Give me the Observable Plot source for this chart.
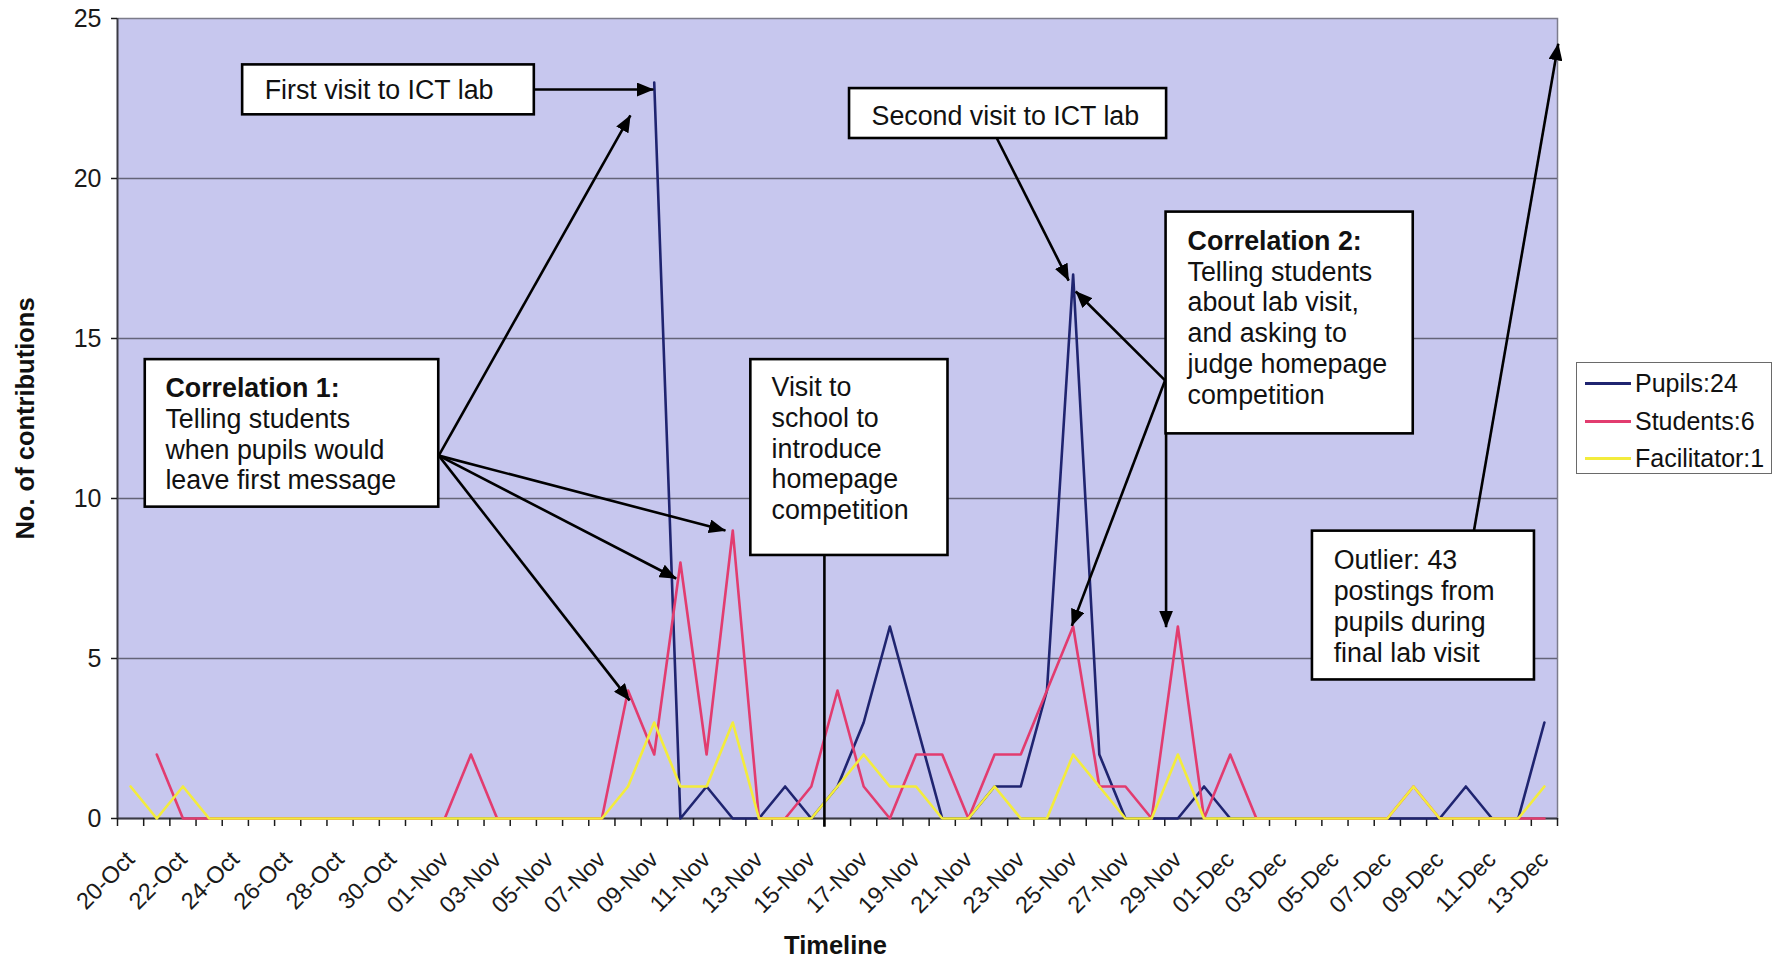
<!DOCTYPE html>
<html>
<head>
<meta charset="utf-8">
<script src="https://cdn.jsdelivr.net/npm/d3@7"></script>
<script src="https://cdn.jsdelivr.net/npm/@observablehq/plot@0.6"></script>
<style>
  html, body { margin: 0; padding: 0; background: #ffffff; }
  #wrap { position: relative; width: 1772px; height: 962px; overflow: hidden;
          font-family: "Liberation Sans", Arial, sans-serif; }
  #legend { position: absolute; left: 1576px; top: 362px; width: 196px; height: 112px;
            border: 1.5px solid #6a6a6a; background: #ffffff; box-sizing: border-box; }
  .row { position: absolute; left: 0; height: 30px; line-height: 30px; font-size: 25px; color: #111; white-space: nowrap; }
  .sw { position: absolute; left: 8px; top: 14px; width: 46px; height: 3px; }
  .lab { position: absolute; left: 58px; top: 0; }
</style>
</head>
<body>
<div id="wrap"></div>
<script>
// ---- data ----
const days = [
  "20-Oct","21-Oct","22-Oct","23-Oct","24-Oct","25-Oct","26-Oct","27-Oct","28-Oct","29-Oct","30-Oct","31-Oct",
  "01-Nov","02-Nov","03-Nov","04-Nov","05-Nov","06-Nov","07-Nov","08-Nov","09-Nov","10-Nov",
  "11-Nov","12-Nov","13-Nov","14-Nov","15-Nov","16-Nov","17-Nov","18-Nov","19-Nov","20-Nov",
  "21-Nov","22-Nov","23-Nov","24-Nov","25-Nov","26-Nov","27-Nov","28-Nov","29-Nov","30-Nov",
  "01-Dec","02-Dec","03-Dec","04-Dec","05-Dec","06-Dec","07-Dec","08-Dec","09-Dec","10-Dec",
  "11-Dec","12-Dec","13-Dec"
];
const pupils = [
  null,null,null,null,null,null,null,null,null,null,null,null,
  null,null,null,null,null,null,null,null,23,0,
  1,0,0,1,0,1,3,6,3,0,
  0,1,1,4,17,2,0,0,0,1,
  0,0,0,0,0,0,0,0,0,1,
  0,0,3
];
const students = [
  null,2,0,0,0,0,0,0,0,0,0,0,
  0,2,0,0,0,0,0,4,2,8,
  2,9,0,0,1,4,1,0,2,2,
  0,2,2,4,6,1,1,0,6,0,
  2,0,0,0,0,0,0,1,0,0,
  0,0,0
];
const facilitator = [
  1,0,1,0,0,0,0,0,0,0,0,0,
  0,0,0,0,0,0,0,1,3,1,
  1,3,0,0,0,1,2,1,1,0,
  0,1,0,0,2,1,0,0,2,0,
  0,0,0,0,0,0,0,1,0,0,
  0,0,1
];
const seriesNames = ["Pupils:24", "Students:6", "Facilitator:1"];
const seriesColors = ["#1f2470", "#e23c6f", "#f3ec3c"];
const yTicks = [0, 5, 10, 15, 20, 25];
const yGrid = [5, 10, 15, 20];
const xLabelIdx = days.map((d, i) => i).filter(i => i % 2 === 0);
const bounds = d3.range(days.length + 1).map(k => k - 0.5);

const table = days.map((day, i) => ({i, day, pupils: pupils[i], students: students[i], facilitator: facilitator[i]}));

// ---- annotations (in data units: x = day index, y = contributions) ----
const boxes = [
  {x1: 4.28,  x2: 15.42, y1: 21.99, y2: 23.55},
  {x1: 0.56,  x2: 11.77, y1: 9.73,  y2: 14.34},
  {x1: 23.69, x2: 31.22, y1: 8.22,  y2: 14.34},
  {x1: 27.46, x2: 39.57, y1: 21.25, y2: 22.81},
  {x1: 39.55, x2: 48.99, y1: 12.02, y2: 18.95},
  {x1: 45.14, x2: 53.62, y1: 4.33,  y2: 8.98}
];
const notes = [
  {x: 5.12,  y: 22.75, bold: false, lines: ["First visit to ICT lab"]},
  {x: 1.33,  y: 13.44, bold: true,  lines: ["Correlation 1:", "Telling students", "when pupils would", "leave first message"]},
  {x: 24.48, y: 13.47, bold: false, lines: ["Visit to", "school to", "introduce", "homepage", "competition"]},
  {x: 28.3,  y: 21.94, bold: false, lines: ["Second visit to ICT lab"]},
  {x: 40.37, y: 18.04, bold: true,  lines: ["Correlation 2:", "Telling students", "about lab visit,", "and asking to", "judge homepage", "competition"]},
  {x: 45.95, y: 8.06,  bold: false, lines: ["Outlier: 43", "postings from", "pupils during", "final lab visit"]}
];
const lineStep = 0.9625;
const arrows = [
  {x1: 15.42, y1: 22.78, x2: 19.97, y2: 22.78},
  {x1: 11.77, y1: 11.34, x2: 19.09, y2: 21.97},
  {x1: 11.77, y1: 11.34, x2: 22.72, y2: 9.0},
  {x1: 11.77, y1: 11.34, x2: 20.84, y2: 7.5},
  {x1: 11.77, y1: 11.34, x2: 19.06, y2: 3.69},
  {x1: 33.09, y1: 21.25, x2: 35.83, y2: 16.81},
  {x1: 39.51, y1: 13.69, x2: 36.1,  y2: 16.47},
  {x1: 39.51, y1: 13.69, x2: 35.95, y2: 6.02},
  {x1: 39.55, y1: 13.69, x2: 39.55, y2: 5.98},
  {x1: 51.31, y1: 9.0,   x2: 54.53, y2: 24.21}
];
const pointer = [{x: 26.5, y1: 8.22, y2: -0.27}];

const noteLines = notes.flatMap(n => n.lines.map((t, k) => ({x: n.x, y: n.y - k * lineStep, text: t, bold: n.bold && k === 0})));

const chart = Plot.plot({
  width: 1772,
  height: 962,
  marginLeft: 117,
  marginRight: 215,
  marginTop: 18,
  marginBottom: 144,
  style: {fontFamily: "'Liberation Sans', Arial, sans-serif", color: "#1a1a1a", background: "transparent"},
  x: {type: "linear", domain: [-0.5, days.length - 0.5]},
  y: {domain: [0, 25]},
  marks: [
    Plot.frame({fill: "#c7c7ee", stroke: "#7c7c8c", strokeWidth: 1.5}),
    Plot.ruleY(yGrid, {stroke: "#646478", strokeWidth: 1.3}),
    Plot.ruleX([-0.5], {stroke: "#3a3a44", strokeWidth: 1.8}),
    Plot.ruleY([0], {stroke: "#3a3a44", strokeWidth: 1.8}),
    Plot.axisY({ticks: yTicks, tickSize: 6, tickPadding: 10, fontSize: 25, label: null, strokeWidth: 1.5}),
    Plot.axisX({ticks: bounds, tickSize: 8, tickFormat: () => "", label: null, strokeWidth: 1.5}),
    Plot.axisX({ticks: xLabelIdx, tickSize: 0, tickPadding: 37, tickRotate: -45, tickFormat: i => days[i], fontSize: 23.5, label: null}),
    Plot.line(table, {x: "i", y: "pupils", stroke: seriesColors[0], strokeWidth: 2.6}),
    Plot.line(table, {x: "i", y: "students", stroke: seriesColors[1], strokeWidth: 2.6}),
    Plot.line(table, {x: "i", y: "facilitator", stroke: seriesColors[2], strokeWidth: 2.6}),
    Plot.ruleX(pointer, {x: "x", y1: "y1", y2: "y2", stroke: "#000", strokeWidth: 2.6}),
    Plot.link(arrows, {x1: "x1", y1: "y1", x2: "x2", y2: "y2", stroke: "#000", strokeWidth: 2.6}),
    Plot.rect(boxes, {x1: "x1", x2: "x2", y1: "y1", y2: "y2", fill: "#ffffff", stroke: "#000", strokeWidth: 2.6}),
    Plot.text(noteLines.filter(d => !d.bold), {x: "x", y: "y", text: "text", textAnchor: "start", fontSize: 26.8, fill: "#111"}),
    Plot.text(noteLines.filter(d => d.bold), {x: "x", y: "y", text: "text", textAnchor: "start", fontSize: 26.8, fontWeight: "bold", fill: "#111"}),
    Plot.text(["No. of contributions"], {text: d => d, frameAnchor: "left", textAnchor: "middle", dx: -92, rotate: -90, fontSize: 25.5, fontWeight: "bold", fill: "#111"}),
    Plot.text(["Timeline"], {text: d => d, frameAnchor: "bottom", dy: 135, dx: -2, fontSize: 25.5, fontWeight: "bold", fill: "#111"})
  ]
});

// filled arrowheads for the callout arrows
const svg = d3.select(chart);
const marker = svg.append("defs").append("marker")
  .attr("id", "ah").attr("viewBox", "0 0 17 14").attr("refX", 16.5).attr("refY", 7)
  .attr("markerWidth", 17).attr("markerHeight", 14)
  .attr("markerUnits", "userSpaceOnUse").attr("orient", "auto");
marker.append("path").attr("d", "M0,0L17,7L0,14Z").attr("fill", "#000");
svg.selectAll('g[aria-label="link"] path').attr("marker-end", "url(#ah)");

const wrap = document.getElementById("wrap");
wrap.appendChild(chart);

// legend
const legend = document.createElement("div");
legend.id = "legend";
const rowTops = [5, 43, 80];
seriesNames.forEach((name, k) => {
  const row = document.createElement("div");
  row.className = "row";
  row.style.top = rowTops[k] + "px";
  const sw = document.createElement("span");
  sw.className = "sw";
  sw.style.background = seriesColors[k];
  const lab = document.createElement("span");
  lab.className = "lab";
  lab.textContent = name;
  row.appendChild(sw);
  row.appendChild(lab);
  legend.appendChild(row);
});
wrap.appendChild(legend);
</script>
</body>
</html>
